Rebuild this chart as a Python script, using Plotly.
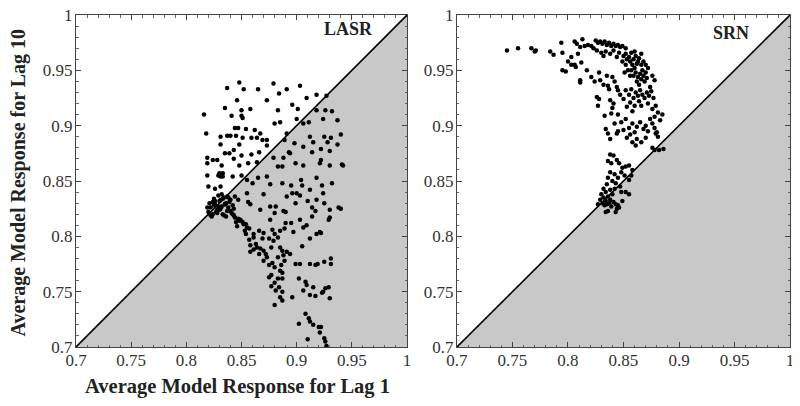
import plotly.graph_objects as go
from plotly.subplots import make_subplots

# axis extent shared by both panels
AXIS_RANGE = [0.7, 1.0]
TICK_VALS = [0.7, 0.75, 0.8, 0.85, 0.9, 0.95, 1.0]
TICK_TEXT = ["0.7", "0.75", "0.8", "0.85", "0.9", "0.95", "1"]

# LASR: (lag 1, lag 10) pairs
lasr_lag1 = [
    0.816, 0.818, 0.837, 0.848, 0.852, 0.865, 0.879, 0.884, 0.891, 0.903, 0.909, 0.918, 0.927,
    0.835, 0.846, 0.850, 0.850, 0.851, 0.841, 0.858, 0.873, 0.883, 0.896, 0.901, 0.900, 0.880,
    0.885, 0.862, 0.867, 0.854, 0.844, 0.847, 0.837, 0.840, 0.845, 0.831, 0.851, 0.859, 0.864,
    0.869, 0.873, 0.891, 0.831, 0.848, 0.873, 0.889, 0.835, 0.839, 0.843, 0.843, 0.850, 0.859,
    0.866, 0.828, 0.824, 0.819, 0.819, 0.832, 0.848, 0.856, 0.864, 0.830, 0.833, 0.831, 0.833,
    0.829, 0.819, 0.842, 0.850, 0.855, 0.820, 0.826, 0.831,
    0.918, 0.926, 0.932, 0.911, 0.924, 0.937, 0.906, 0.925, 0.931, 0.940, 0.912, 0.898, 0.906,
    0.915, 0.928, 0.937, 0.893, 0.894, 0.914, 0.922, 0.930, 0.888, 0.899, 0.906, 0.922, 0.921,
    0.930, 0.941, 0.942, 0.879, 0.887, 0.883, 0.873, 0.865, 0.860, 0.876, 0.887, 0.895, 0.904,
    0.905, 0.918, 0.923, 0.932, 0.912, 0.896, 0.900, 0.891, 0.903, 0.924, 0.918, 0.910, 0.899,
    0.925, 0.870, 0.855, 0.856, 0.858, 0.844, 0.847, 0.876, 0.881, 0.888, 0.890, 0.867, 0.880,
    0.876, 0.914, 0.917, 0.930, 0.938, 0.940, 0.903, 0.914, 0.929, 0.930, 0.921, 0.922, 0.909,
    0.906, 0.890, 0.895, 0.885, 0.889, 0.897, 0.878, 0.880, 0.883, 0.905, 0.912, 0.918,
    0.820, 0.822, 0.824, 0.826, 0.828, 0.830, 0.832, 0.834, 0.836, 0.838, 0.840, 0.842, 0.821,
    0.823, 0.825, 0.827, 0.829, 0.831, 0.833, 0.835, 0.837, 0.839, 0.841, 0.843, 0.819, 0.822,
    0.825, 0.828, 0.831, 0.834, 0.837, 0.840, 0.843, 0.826, 0.829, 0.832, 0.835, 0.838, 0.824,
    0.830, 0.836, 0.842, 0.833,
    0.844, 0.847, 0.848, 0.851, 0.852, 0.854, 0.855, 0.857, 0.845, 0.853, 0.849, 0.846, 0.854,
    0.861, 0.863, 0.858, 0.864, 0.867, 0.870, 0.866, 0.872, 0.873, 0.870, 0.877, 0.879, 0.875,
    0.885, 0.887, 0.891, 0.894, 0.888, 0.883, 0.878, 0.875, 0.880, 0.886, 0.889, 0.885, 0.887,
    0.877, 0.875, 0.883, 0.887, 0.880, 0.877, 0.884, 0.881, 0.887, 0.885, 0.887, 0.880, 0.896,
    0.902, 0.903, 0.899, 0.912, 0.917, 0.919, 0.925, 0.931, 0.931, 0.908, 0.909, 0.915, 0.906,
    0.912, 0.917, 0.924, 0.926, 0.929, 0.930, 0.923, 0.908, 0.911, 0.912, 0.915, 0.920, 0.922,
    0.921, 0.902, 0.910, 0.925, 0.926, 0.927, 0.857, 0.861, 0.869, 0.870, 0.866, 0.858, 0.861,
]
lasr_lag10 = [
    0.910, 0.893, 0.934, 0.939, 0.933, 0.933, 0.938, 0.929, 0.933, 0.936, 0.925, 0.928, 0.927,
    0.916, 0.923, 0.914, 0.909, 0.907, 0.909, 0.915, 0.923, 0.914, 0.919, 0.915, 0.906, 0.902,
    0.903, 0.896, 0.893, 0.897, 0.898, 0.898, 0.891, 0.891, 0.891, 0.890, 0.889, 0.889, 0.889,
    0.887, 0.887, 0.893, 0.883, 0.883, 0.882, 0.887, 0.875, 0.875, 0.878, 0.870, 0.873, 0.874,
    0.876, 0.869, 0.869, 0.871, 0.866, 0.864, 0.864, 0.866, 0.867, 0.857, 0.857, 0.854, 0.854,
    0.855, 0.855, 0.854, 0.855, 0.851, 0.845, 0.843, 0.845,
    0.914, 0.914, 0.913, 0.903, 0.906, 0.905, 0.902, 0.890, 0.889, 0.892, 0.890, 0.884, 0.881,
    0.885, 0.885, 0.883, 0.876, 0.875, 0.876, 0.879, 0.877, 0.871, 0.866, 0.864, 0.869, 0.866,
    0.864, 0.865, 0.864, 0.871, 0.863, 0.863, 0.854, 0.853, 0.848, 0.847, 0.848, 0.846, 0.851,
    0.846, 0.853, 0.846, 0.848, 0.842, 0.839, 0.839, 0.836, 0.837, 0.839, 0.833, 0.832, 0.830,
    0.830, 0.838, 0.839, 0.831, 0.829, 0.836, 0.833, 0.827, 0.827, 0.823, 0.822, 0.824, 0.821,
    0.815, 0.826, 0.823, 0.824, 0.826, 0.825, 0.815, 0.818, 0.815, 0.817, 0.804, 0.803, 0.810,
    0.808, 0.812, 0.812, 0.805, 0.807, 0.804, 0.806, 0.802, 0.799, 0.791, 0.798, 0.802,
    0.822, 0.826, 0.820, 0.829, 0.824, 0.832, 0.827, 0.835, 0.830, 0.826, 0.833, 0.828, 0.830,
    0.818, 0.834, 0.822, 0.837, 0.825, 0.820, 0.829, 0.823, 0.831, 0.821, 0.825, 0.826, 0.819,
    0.828, 0.821, 0.833, 0.819, 0.836, 0.823, 0.819, 0.832, 0.827, 0.838, 0.829, 0.835, 0.831,
    0.824, 0.818, 0.820, 0.834,
    0.817, 0.816, 0.814, 0.813, 0.811, 0.811, 0.808, 0.807, 0.813, 0.805, 0.815, 0.809, 0.802,
    0.799, 0.793, 0.792, 0.790, 0.789, 0.787, 0.784, 0.784, 0.781, 0.778, 0.790, 0.796, 0.798,
    0.790, 0.787, 0.786, 0.784, 0.783, 0.781, 0.776, 0.774, 0.772, 0.774, 0.778, 0.769, 0.767,
    0.765, 0.763, 0.762, 0.762, 0.758, 0.755, 0.754, 0.751, 0.750, 0.745, 0.742, 0.738, 0.745,
    0.762, 0.775, 0.775, 0.775, 0.774, 0.775, 0.777, 0.780, 0.775, 0.759, 0.756, 0.754, 0.751,
    0.747, 0.746, 0.750, 0.753, 0.754, 0.744, 0.749, 0.730, 0.726, 0.723, 0.720, 0.718, 0.718,
    0.713, 0.721, 0.707, 0.708, 0.705, 0.701, 0.797, 0.802, 0.798, 0.803, 0.805, 0.786, 0.788,
]

# SRN: (lag 1, lag 10) pairs
srn_lag1 = [
    0.745, 0.755, 0.767, 0.770, 0.771, 0.784, 0.787, 0.794, 0.795, 0.795, 0.798, 0.800, 0.803,
    0.806, 0.807, 0.803, 0.811, 0.811, 0.812, 0.806, 0.808, 0.813, 0.815, 0.818, 0.821, 0.811,
    0.809,
    0.825, 0.827, 0.829, 0.831, 0.833, 0.835, 0.837, 0.839, 0.841, 0.843, 0.845, 0.847, 0.849,
    0.852, 0.830, 0.832, 0.834, 0.838, 0.841, 0.844, 0.846, 0.850, 0.823, 0.826,
    0.852, 0.855, 0.857, 0.859, 0.861, 0.863, 0.856, 0.858, 0.860, 0.862, 0.864, 0.866, 0.868,
    0.867, 0.865, 0.863, 0.861, 0.859, 0.862, 0.864, 0.866, 0.868, 0.870, 0.871, 0.869, 0.854,
    0.852, 0.857, 0.853, 0.860, 0.866, 0.870, 0.872, 0.876, 0.878, 0.874, 0.856, 0.851, 0.849,
    0.817, 0.821, 0.824, 0.828, 0.829, 0.832, 0.835, 0.836, 0.837, 0.842, 0.844, 0.845, 0.840,
    0.847, 0.826, 0.828, 0.827, 0.838, 0.840, 0.841,
    0.852, 0.855, 0.857, 0.859, 0.861, 0.863, 0.865, 0.867, 0.869, 0.871, 0.873, 0.875, 0.877,
    0.864, 0.860, 0.856, 0.853, 0.850, 0.858, 0.866, 0.872, 0.876, 0.879, 0.881, 0.878,
    0.845, 0.848, 0.852, 0.855, 0.858, 0.860, 0.862, 0.865, 0.868, 0.870, 0.872, 0.874, 0.876,
    0.878, 0.880, 0.881, 0.883, 0.885, 0.879, 0.862, 0.858, 0.861, 0.866, 0.856, 0.853, 0.850,
    0.876, 0.878, 0.882, 0.886, 0.870,
    0.834, 0.836, 0.838, 0.842, 0.845, 0.833, 0.839, 0.844,
    0.838, 0.841, 0.844, 0.836, 0.839, 0.846, 0.849, 0.852, 0.855, 0.858, 0.857, 0.855, 0.851,
    0.848, 0.845, 0.842, 0.838, 0.836, 0.840, 0.843, 0.847, 0.835, 0.832, 0.834, 0.830, 0.832,
    0.834, 0.836, 0.838, 0.831, 0.833, 0.835, 0.837, 0.829, 0.827, 0.839, 0.841, 0.843, 0.845,
    0.844, 0.836, 0.834, 0.843, 0.846, 0.848, 0.852, 0.855, 0.838, 0.840, 0.842, 0.849,
]
srn_lag10 = [
    0.968, 0.970, 0.970, 0.967, 0.968, 0.967, 0.964, 0.975, 0.966, 0.950, 0.949, 0.958, 0.955,
    0.955, 0.953, 0.962, 0.941, 0.939, 0.957, 0.976, 0.974, 0.978, 0.972, 0.973, 0.972, 0.971,
    0.965,
    0.977, 0.975, 0.976, 0.974, 0.976, 0.973, 0.975, 0.972, 0.974, 0.972, 0.973, 0.971, 0.972,
    0.970, 0.966, 0.963, 0.967, 0.965, 0.968, 0.962, 0.966, 0.963, 0.970, 0.968,
    0.965, 0.962, 0.966, 0.960, 0.963, 0.958, 0.958, 0.955, 0.952, 0.956, 0.961, 0.955, 0.958,
    0.950, 0.947, 0.944, 0.948, 0.945, 0.940, 0.937, 0.942, 0.945, 0.948, 0.943, 0.940, 0.950,
    0.955, 0.950, 0.960, 0.967, 0.965, 0.955, 0.952, 0.945, 0.941, 0.935, 0.945, 0.948, 0.958,
    0.950, 0.944, 0.940, 0.948, 0.941, 0.937, 0.945, 0.936, 0.933, 0.940, 0.935, 0.932, 0.944,
    0.928, 0.926, 0.924, 0.918, 0.923, 0.916, 0.920,
    0.932, 0.928, 0.933, 0.925, 0.930, 0.927, 0.932, 0.928, 0.925, 0.930, 0.927, 0.931, 0.925,
    0.922, 0.918, 0.921, 0.917, 0.924, 0.913, 0.918, 0.920, 0.915, 0.918, 0.912, 0.908,
    0.910, 0.903, 0.906, 0.898, 0.902, 0.894, 0.899, 0.903, 0.897, 0.900, 0.895, 0.906, 0.902,
    0.898, 0.894, 0.890, 0.905, 0.910, 0.893, 0.888, 0.885, 0.882, 0.885, 0.892, 0.889, 0.896,
    0.880, 0.878, 0.878, 0.879, 0.889,
    0.897, 0.893, 0.888, 0.902, 0.895, 0.909, 0.911, 0.893,
    0.874, 0.873, 0.869, 0.868, 0.866, 0.866, 0.862, 0.863, 0.864, 0.860, 0.855, 0.851, 0.855,
    0.858, 0.853, 0.856, 0.858, 0.853, 0.850, 0.848, 0.845, 0.847, 0.843, 0.840, 0.838, 0.835,
    0.832, 0.836, 0.833, 0.830, 0.828, 0.829, 0.830, 0.833, 0.829, 0.827, 0.831, 0.829, 0.828,
    0.825, 0.823, 0.822, 0.822, 0.826, 0.840, 0.840, 0.838, 0.842, 0.838, 0.843, 0.832,
]

panels = [("LASR", lasr_lag1, lasr_lag10), ("SRN", srn_lag1, srn_lag10)]

SERIF = "Liberation Serif, Times New Roman, serif"
GREY = "#c8c8c8"
INK = "#222"

fig = make_subplots(rows=1, cols=2, horizontal_spacing=0.0)

lo, hi = AXIS_RANGE
for col, (name, xs, ys) in enumerate(panels, start=1):
    # region below the identity line
    fig.add_trace(
        go.Scatter(
            x=[lo, hi, hi, lo], y=[lo, hi, lo, lo],
            mode="lines", fill="toself", fillcolor=GREY,
            line=dict(width=0), hoverinfo="skip", showlegend=False,
        ),
        row=1, col=col,
    )
    fig.add_trace(
        go.Scatter(
            x=[lo, hi], y=[lo, hi], mode="lines",
            line=dict(color="black", width=1.6),
            hoverinfo="skip", showlegend=False,
        ),
        row=1, col=col,
    )
    fig.add_trace(
        go.Scatter(
            x=xs, y=ys, mode="markers", name=name,
            marker=dict(color="black", size=4.5),
            showlegend=False,
        ),
        row=1, col=col,
    )

axis_style = dict(
    range=AXIS_RANGE,
    tickvals=TICK_VALS,
    ticktext=TICK_TEXT,
    ticks="inside",
    ticklen=5,
    tickcolor="#444",
    minor=dict(dtick=0.01, ticks="inside", ticklen=2.5, tickcolor="#666"),
    showgrid=False,
    zeroline=False,
    showline=True,
    linecolor="#444",
    linewidth=1,
    mirror="ticks",
    tickfont=dict(family=SERIF, size=17, color="#333"),
    ticklabeloverflow="allow",
    automargin=False,
    fixedrange=True,
)

fig.update_xaxes(**axis_style, ticklabelstandoff=-2)
fig.update_yaxes(**axis_style, ticklabelstandoff=-1)
fig.update_xaxes(domain=[0.0, 0.4636], row=1, col=1)
fig.update_xaxes(domain=[0.5336, 1.0], row=1, col=2)

# axis titles placed as paper annotations so the margins stay fixed
fig.add_annotation(x=0.226, y=-0.12, xref="paper", yref="paper",
                   text="<b>Average Model Response for Lag 1</b>", showarrow=False,
                   xanchor="center", yanchor="middle",
                   font=dict(family=SERIF, size=20.5, color=INK))
fig.add_annotation(x=-0.0812, y=0.4955, xref="paper", yref="paper",
                   text="<b>Average Model Response for Lag 10</b>", showarrow=False,
                   textangle=-90, xanchor="center", yanchor="middle",
                   font=dict(family=SERIF, size=20, color=INK))

fig.add_annotation(x=0.947, y=0.987, xref="x", yref="y", text="<b>LASR</b>",
                   showarrow=False, font=dict(family=SERIF, size=18, color=INK))
fig.add_annotation(x=0.947, y=0.984, xref="x2", yref="y2", text="<b>SRN</b>",
                   showarrow=False, font=dict(family=SERIF, size=18, color=INK))

# the page body adds an 8px offset, so the margins are shifted to compensate
fig.update_layout(
    width=800,
    height=406,
    margin=dict(l=68, r=18, t=7, b=67),
    plot_bgcolor="white",
    paper_bgcolor="white",
    showlegend=False,
)

fig.write_html("out.html")
